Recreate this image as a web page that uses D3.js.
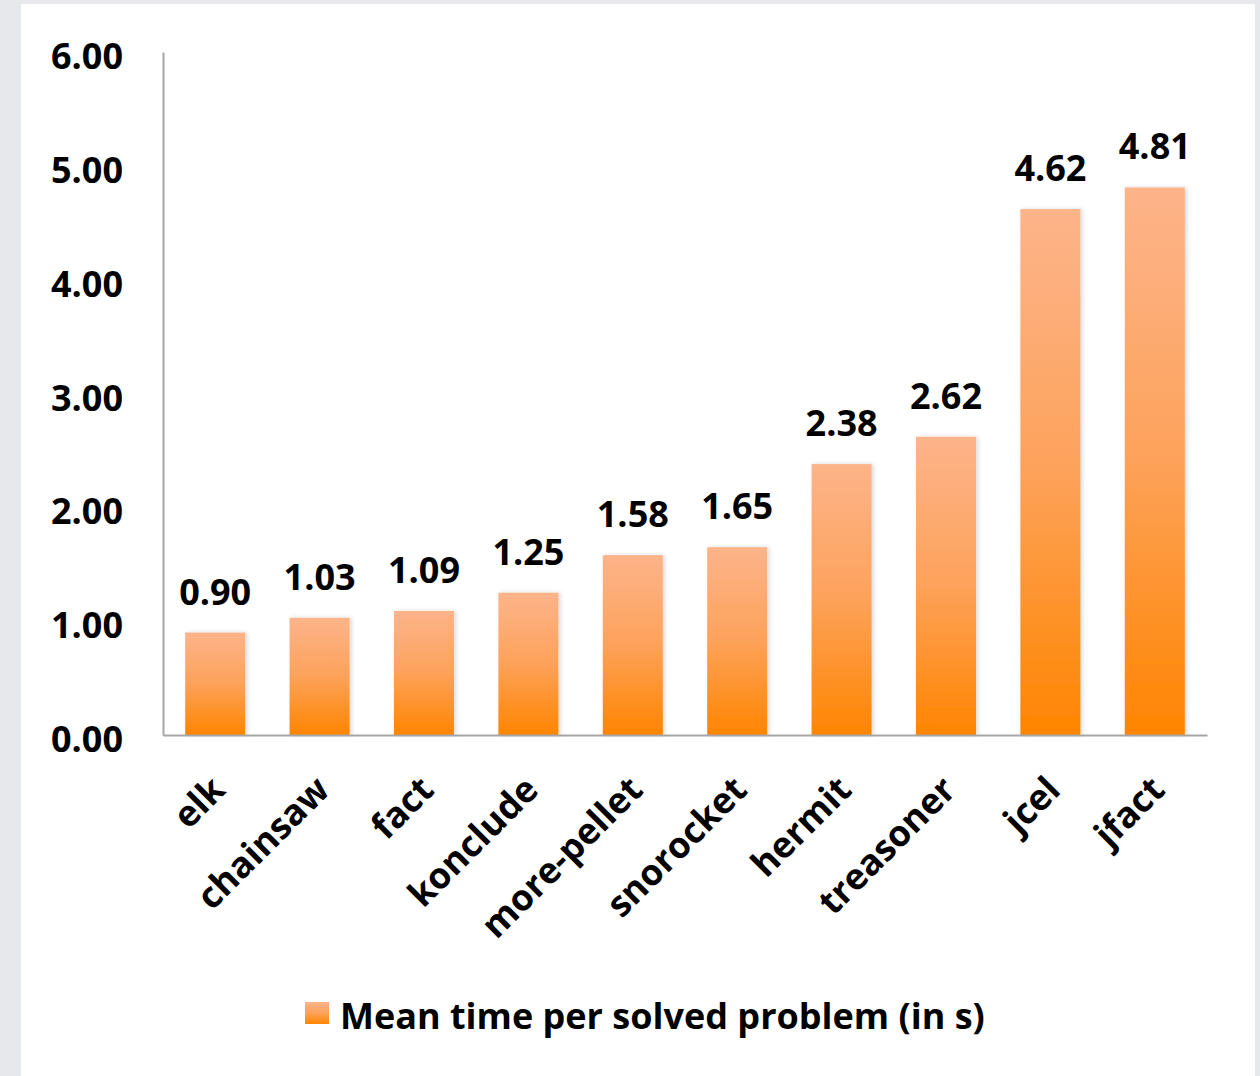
<!DOCTYPE html>
<html><head><meta charset="utf-8">
<script src="https://cdn.jsdelivr.net/npm/d3@7/dist/d3.min.js"></script>
<style>
html,body{margin:0;padding:0;background:#e6e8ec;}
svg{display:block;}
text{font-family:"Open Sans",Lato,sans-serif;font-weight:bold;fill:#000;}
</style></head>
<body>
<svg id="chart" width="1260" height="1076"></svg>
<script>
const categories = ["elk","chainsaw","fact","konclude","more-pellet","snorocket","hermit","treasoner","jcel","jfact"];
const values = [0.90,1.03,1.09,1.25,1.58,1.65,2.38,2.62,4.62,4.81];
const yTicks = [0,1,2,3,4,5,6];
const seriesName = "Mean time per solved problem (in s)";

(function(){
const FS = 36;
const svg = d3.select("#chart");
svg.append("rect").attr("x",21).attr("y",4).attr("width",1234).attr("height",1072).attr("fill","#ffffff");

const defs = svg.append("defs");
const grad = defs.append("linearGradient").attr("id","barGrad").attr("x1",0).attr("y1",0).attr("x2",0).attr("y2",1);
grad.append("stop").attr("offset","0%").attr("stop-color","#fdb48a");
grad.append("stop").attr("offset","50%").attr("stop-color","#fda25a");
grad.append("stop").attr("offset","100%").attr("stop-color","#ff8500");
const f = defs.append("filter").attr("id","shadow").attr("x","-20%").attr("y","-10%").attr("width","140%").attr("height","120%");
f.append("feDropShadow").attr("dx",2).attr("dy",0).attr("stdDeviation",2).attr("flood-color","#000").attr("flood-opacity",0.15);

const mLeft = 163, mRight = 1207, mTop = 52, mBottom = 735;
const x = d3.scaleBand().domain(categories).range([mLeft,mRight]).paddingInner(0.425).paddingOuter(0.2125);
const y = d3.scaleLinear().domain([0,6]).range([mBottom,mTop]);

const yAxis = d3.axisLeft(y).tickValues(yTicks).tickFormat(d3.format(".2f")).tickSize(0).tickPadding(40);
const gy = svg.append("g").attr("transform",`translate(${mLeft},0)`).call(yAxis);
gy.select(".domain").attr("stroke","#a6a6a6").attr("stroke-width",2);
gy.selectAll("text").attr("font-size",FS).attr("font-family","'Open Sans',sans-serif").attr("font-weight","bold").attr("fill","#000").attr("dy","0.46em");

svg.append("g").selectAll("rect").data(values).join("rect")
  .attr("x",(d,i)=>x(categories[i]))
  .attr("y",d=>y(d))
  .attr("width",x.bandwidth())
  .attr("height",d=>y(0)-y(d))
  .attr("fill","url(#barGrad)")
  .attr("filter","url(#shadow)");

const xAxis = d3.axisBottom(x).tickSize(0).tickFormat("");
const gx = svg.append("g").attr("transform",`translate(0,${mBottom})`).call(xAxis);
gx.select(".domain").attr("stroke","#a6a6a6").attr("stroke-width",2);

svg.append("g").selectAll("text").data(values).join("text")
  .attr("x",(d,i)=>x(categories[i])+x.bandwidth()/2)
  .attr("y",d=>y(d)-28)
  .attr("text-anchor","middle")
  .attr("font-size",FS)
  .text(d=>d3.format(".2f")(d));

svg.append("g").selectAll("text").data(categories).join("text")
  .attr("transform",d=>`translate(${x(d)+x.bandwidth()/2+3},${mBottom+48}) rotate(-45)`)
  .attr("text-anchor","end")
  .attr("font-size",FS)
  .attr("dy","0.35em")
  .text(d=>d);

const lg = svg.append("g");
lg.append("rect").attr("x",305).attr("y",1002).attr("width",24).attr("height",22).attr("fill","url(#barGrad)");
lg.append("text").attr("x",340).attr("y",1029).attr("font-size",FS).text(seriesName);
})();
</script>
</body></html>
